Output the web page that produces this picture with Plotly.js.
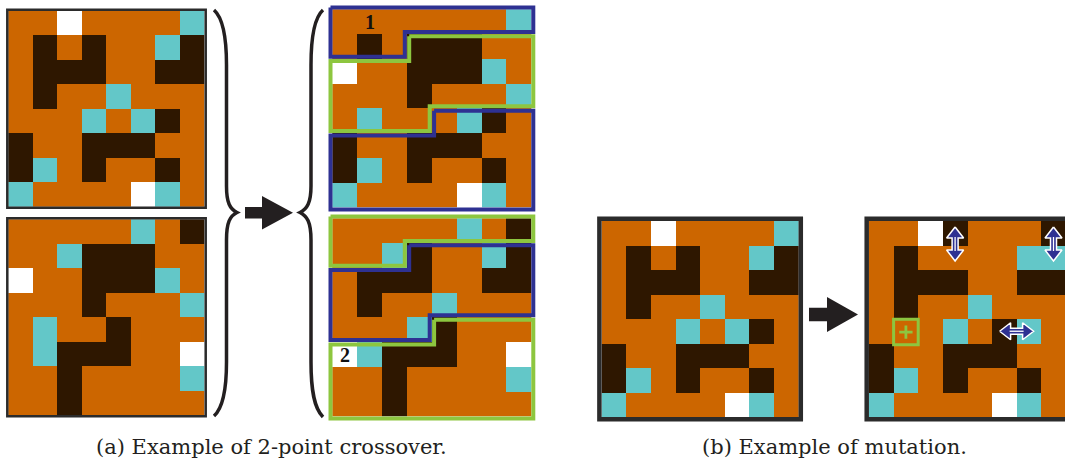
<!DOCTYPE html>
<html><head><meta charset="utf-8">
<script src="https://cdn.plot.ly/plotly-3.0.1.min.js"></script>
<style>html,body{margin:0;padding:0;background:#fff}#chart{width:1065px;height:461px}</style>
</head><body><div id="chart"></div>
<script>
// Cell codes: O = orange floor, D = dark wall, C = cyan, W = white
const parentA = ["OOWOOOOC","ODODOOCD","ODDDOODD","ODOOCOOO","OOOCOCDO","DOODDDOO","DCODOODO","COOOOWCO"];
const parentB = ["OOOOOCOD","OOCDDDOO","WOODDDCO","OOODOOOC","OCOODOOO","OCDDDOOW","OODOOOOC","OODOOOOO"];
const child1  = ["OOOOOOOC","ODODDDOO","WOODDDCO","OOODOOOC","OCOOOCDO","DOODDDOO","DCODOODO","COOOOWCO"];
const child2  = ["OOOOOCOD","OOCDOOCD","ODDDOODD","ODOOCOOO","OOOCDOOO","WCDDDOOW","OODOOOOC","OODOOOOO"];
const mutOriginal = ["OOWOOOOC","ODODOOCD","ODDDOODD","ODOOCOOO","OOOCOCDO","DOODDDOO","DCODOODO","COOOOWCO"];
const mutated     = ["OOWDOOOD","ODOOOOCC","ODDDOODD","ODOOCOOO","OOOCODCO","DOODDDOO","DCODOODO","COOOOWCO"];
const cutPoints = [11, 36];            // 2-point crossover cut indices (row-major)
const child1Parents = ["A","B","A"];   // segment source for child 1
const child2Parents = ["B","A","B"];   // segment source for child 2
const crossLabels = [{grid:"c1", row:0, col:1, text:"1"}, {grid:"c2", row:5, col:0, text:"2"}];
const swaps = [{row:0, col:3, dir:"v"}, {row:0, col:7, dir:"v"}, {row:4, col:5, dir:"h"}];
const added = {row:4, col:1};
const captions = ["(a) Example of 2-point crossover.", "(b) Example of mutation."];

const COL = {O:"#CC6600", D:"#2E1700", C:"#63C7C8", W:"#FFFFFF"};
const CODE = {O:0, D:1, C:2, W:3};
const BLUE = "#2E3192", GREEN = "#8DC63F", INK = "#231F20";

// placement of each grid on the page (pixels)
const G = {
  A:  {x:8.3,   y:10.7,  cw:24.55, ch:24.5, data:parentA},
  B:  {x:8.3,   y:219.3, cw:24.55, ch:24.5, data:parentB},
  c1: {x:332.3, y:9.3,   cw:24.9,  ch:24.8, data:child1},
  c2: {x:332.3, y:218.3, cw:24.9,  ch:24.8, data:child2},
  m0: {x:601.7, y:221,   cw:24.6,  ch:24.5, data:mutOriginal},
  m1: {x:869,   y:221,   cw:24.6,  ch:24.5, data:mutated}
};

const cs = [[0,COL.O],[0.25,COL.O],[0.25,COL.D],[0.5,COL.D],[0.5,COL.C],[0.75,COL.C],[0.75,COL.W],[1,COL.W]];
const traces = [];
const shapes = [];
const annotations = [];

for (const k in G) {
  const g = G[k];
  traces.push({type:"heatmap", z:g.data.map(r => r.split("").map(c => CODE[c])),
    x0:g.x + g.cw/2, dx:g.cw, y0:g.y + g.ch/2, dy:g.ch,
    zmin:-0.5, zmax:3.5, colorscale:cs, showscale:false, hoverinfo:"skip", zsmooth:false});
}
// borders
function border(g, w, pad, color) {
  shapes.push({type:"rect", xref:"x", yref:"y", x0:g.x-pad, x1:g.x+8*g.cw+pad, y0:g.y-pad, y1:g.y+8*g.ch+pad,
    line:{color:color, width:w}, fillcolor:"rgba(0,0,0,0)"});
}
border(G.A, 2.5, 1, "#2b2b2b");
border(G.B, 2.5, 1, "#2b2b2b");
border(G.m0, 4.5, 2.3, "#2b2b2b");
border(G.m1, 4.5, 2.3, "#2b2b2b");

// crossover region outlines
function regionPts(a, b) {
  const ra = Math.floor(a/8), ca = a%8, rb = Math.floor(b/8), cb = b%8;
  let p = (cb === 0) ? [[ca,ra],[8,ra],[8,rb],[0,rb],[0,ra+1],[ca,ra+1]]
                     : [[ca,ra],[8,ra],[8,rb],[cb,rb],[cb,rb+1],[0,rb+1],[0,ra+1],[ca,ra+1]];
  let q = [];
  for (const v of p) { const l = q[q.length-1]; if (!l || l[0]!==v[0] || l[1]!==v[1]) q.push(v); }
  if (q.length>1 && q[0][0]===q[q.length-1][0] && q[0][1]===q[q.length-1][1]) q.pop();
  let changed = true;
  while (changed) {
    changed = false;
    for (let i=0;i<q.length;i++) {
      const p0 = q[(i-1+q.length)%q.length], p1 = q[i], p2 = q[(i+1)%q.length];
      if ((p0[0]===p1[0] && p1[0]===p2[0]) || (p0[1]===p1[1] && p1[1]===p2[1])) { q.splice(i,1); changed = true; break; }
    }
  }
  return q;
}
function outline(g, a, b, color) {
  const E = 4, d = 2.2;
  const pts = regionPts(a, b).map(([c,r]) => [
    c===0 ? g.x-E : c===8 ? g.x+8*g.cw+E : g.x+c*g.cw,
    r===0 ? g.y-E : r===8 ? g.y+8*g.ch+E : g.y+r*g.ch]);
  const n = pts.length, xs = [], ys = [];
  for (let i=0;i<n;i++) {
    const p0 = pts[(i-1+n)%n], p1 = pts[i], p2 = pts[(i+1)%n];
    const d1 = [Math.sign(p1[0]-p0[0]), Math.sign(p1[1]-p0[1])];
    const d2 = [Math.sign(p2[0]-p1[0]), Math.sign(p2[1]-p1[1])];
    xs.push(p1[0] + d*(-d1[1] - d2[1]));
    ys.push(p1[1] + d*(d1[0] + d2[0]));
  }
  xs.push(xs[0]); ys.push(ys[0]);
  traces.push({type:"scatter", mode:"lines", x:xs, y:ys, line:{color:color, width:4}, hoverinfo:"skip"});
}
const bounds = [0, cutPoints[0], cutPoints[1], 64];
const pc = {A:BLUE, B:GREEN};
for (let s=0;s<3;s++) outline(G.c1, bounds[s], bounds[s+1], pc[child1Parents[s]]);
for (let s=0;s<3;s++) outline(G.c2, bounds[s], bounds[s+1], pc[child2Parents[s]]);

for (const L of crossLabels) {
  const g = G[L.grid];
  annotations.push({x:g.x+(L.col+0.5)*g.cw, y:g.y+(L.row+0.5)*g.ch, xref:"x", yref:"y", text:"<b>"+L.text+"</b>",
    showarrow:false, font:{family:"Liberation Serif, serif", size:20, color:"#111"}});
}

// big block arrows
function blockArrow(x1, x2, yc, sh, hh, hl) {
  const xh = x2 - hl;
  traces.push({type:"scatter", mode:"lines", fill:"toself", fillcolor:INK, line:{width:0, color:INK},
    x:[x1, xh, xh, x2, xh, xh, x1, x1], y:[yc-sh, yc-sh, yc-hh, yc, yc+hh, yc+sh, yc+sh, yc-sh], hoverinfo:"skip"});
}
blockArrow(245, 293, 212.7, 5.8, 16.7, 31);
blockArrow(809, 858, 314.5, 6.7, 17.5, 31);

// double arrows for swaps
const m = G.m1;
for (const s of swaps) {
  let L = 17, hl = 11, hw = 8.5, sw = 3, xs, ys, lx, ly;
  if (s.dir === "v") {
    const cx = m.x + (s.col+0.5)*m.cw, cy = m.y + (s.row+1)*m.ch - 1.5;
    const a = [[0,-L],[hw,-L+hl],[sw,-L+hl],[sw,L-hl],[hw,L-hl],[0,L],[-hw,L-hl],[-sw,L-hl],[-sw,-L+hl],[-hw,-L+hl],[0,-L]];
    xs = a.map(p => cx+p[0]); ys = a.map(p => cy+p[1]);
    lx = [cx, cx]; ly = [cy-L+hl-1, cy+L-hl+1];
  } else {
    const cx = m.x + (s.col+1)*m.cw, cy = m.y + (s.row+0.5)*m.ch;
    const a = [[-L,0],[-L+hl,-hw],[-L+hl,-sw],[L-hl,-sw],[L-hl,-hw],[L,0],[L-hl,hw],[L-hl,sw],[-L+hl,sw],[-L+hl,hw],[-L,0]];
    xs = a.map(p => cx+p[0]); ys = a.map(p => cy+p[1]);
    lx = [cx-L+hl-1, cx+L-hl+1]; ly = [cy, cy];
  }
  traces.push({type:"scatter", mode:"lines", fill:"toself", fillcolor:BLUE, line:{width:1.5, color:"#FFFFFF"},
    x:xs, y:ys, hoverinfo:"skip"});
  traces.push({type:"scatter", mode:"lines", x:lx, y:ly, line:{width:1.3, color:"#FFFFFF"}, hoverinfo:"skip"});
}
// added cell marker
const ax = m.x+(added.col+0.5)*m.cw, ay = m.y+(added.row+0.5)*m.ch + 0.8;
shapes.push({type:"rect", xref:"x", yref:"y", x0:ax-12.3, x1:ax+12.3, y0:ay-12.8, y1:ay+12.8,
  line:{color:GREEN, width:3}, fillcolor:"rgba(0,0,0,0)"});
traces.push({type:"scatter", mode:"markers", x:[ax], y:[ay],
  marker:{symbol:"cross-thin-open", size:9.5, color:GREEN, line:{width:2.8, color:GREEN}}, hoverinfo:"skip"});

// braces
shapes.push({type:"path", xref:"x", yref:"y", line:{color:INK, width:3.5},
  path:"M 214,10 C 223,18 226.5,38 226.5,65 L 226.5,186 C 226.5,203 230,209 237,212.5 C 230,216 226.5,222 226.5,240 L 226.5,362 C 226.5,390 223,408 214,416"});
shapes.push({type:"path", xref:"x", yref:"y", line:{color:INK, width:3.5},
  path:"M 323,10 C 314,18 311,38 311,65 L 311,186 C 311,203 307,209 300,212.5 C 307,216 311,222 311,240 L 311,362 C 311,390 314,408 323,417"});

annotations.push({x:271, y:446.5, xref:"x", yref:"y", text:captions[0], showarrow:false,
  font:{family:"DejaVu Serif, serif", size:21, color:INK}});
annotations.push({x:834, y:446.5, xref:"x", yref:"y", text:captions[1], showarrow:false,
  font:{family:"DejaVu Serif, serif", size:21, color:INK}});

const layout = {
  width:1065, height:461, margin:{l:0, r:0, t:0, b:0}, paper_bgcolor:"#fff", plot_bgcolor:"#fff",
  showlegend:false,
  xaxis:{range:[0,1065], visible:false, fixedrange:true},
  yaxis:{range:[461,0], visible:false, fixedrange:true},
  shapes:shapes, annotations:annotations
};
Plotly.newPlot("chart", traces, layout, {displayModeBar:false, staticPlot:true});
</script></body></html>
